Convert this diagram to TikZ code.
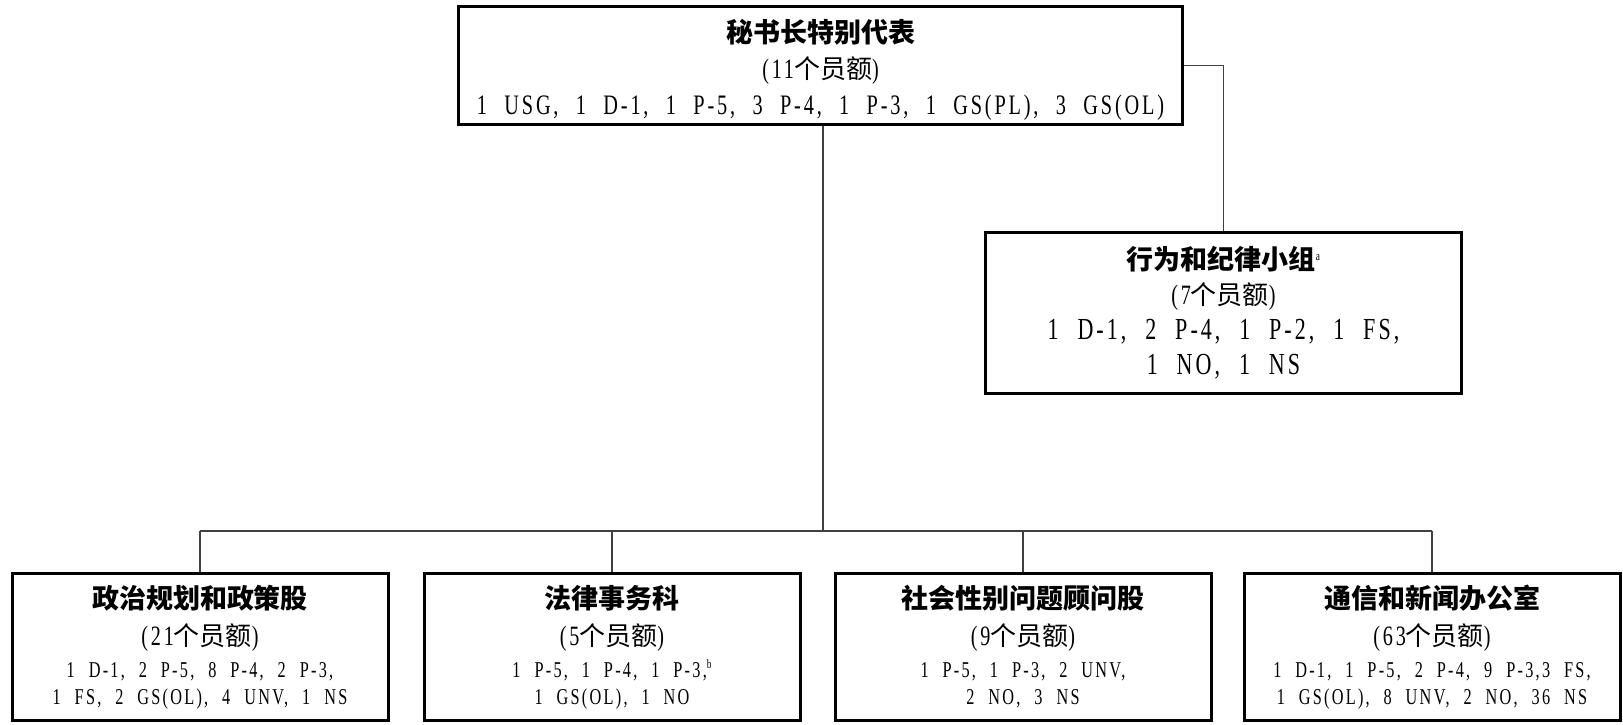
\documentclass[tikz,border=0pt]{standalone}
\usepackage{fontspec}
\newfontfamily\cjk{Noto Sans CJK SC}
\newfontfamily\latn[FakeStretch=0.72,LetterSpace=10,WordSpace=2.2]{Liberation Serif}
\newcommand{\unitname}[1]{{\cjk\bfseries\fontsize{27}{27}\selectfont #1}}
\newcommand{\postcount}[1]{{\fontsize{28}{28}\selectfont\latn(#1{\cjk\fontsize{26}{26}\selectfont 个员额})}}
\newcommand{\supmark}[1]{\raisebox{9pt}{\fontsize{13}{13}\selectfont\latn #1}}
\begin{document}
\begin{tikzpicture}[x=1pt,y=-1pt,
  box/.style={draw=black,line width=3pt,inner sep=0pt,align=center},
  link/.style={draw=black!75,line width=1.5pt}]
\useasboundingbox (0,0) rectangle (1623,724);
\node[box,minimum width=724,minimum height=118,font={\fontsize{28.2}{36}\selectfont\latn}]
  (srsg) at (820.5,65.5) {\rule{0pt}{32pt}\unitname{秘书长特别代表}\\
  \postcount{11}\\
  1 USG, 1 D-1, 1 P-5, 3 P-4, 1 P-3, 1 GS(PL), 3 GS(OL)};
\node[box,minimum width=476,minimum height=161,font={\fontsize{30.6}{35}\selectfont\latn}]
  (cdt) at (1223.5,313) {\unitname{行为和纪律小组}\supmark{a}\\
  \postcount{7}\\
  1 D-1, 2 P-4, 1 P-2, 1 FS,\\
  1 NO, 1 NS};
\tikzset{lowbox/.style={box,minimum width=376,minimum height=147,font={\fontsize{22.6}{27}\selectfont\latn}}}
\node[lowbox] (polit) at (200,647) {\unitname{政治规划和政策股}\\[10pt]
  \postcount{21}\\[5pt]
  1 D-1, 2 P-5, 8 P-4, 2 P-3,\\
  1 FS, 2 GS(OL), 4 UNV, 1 NS};
\node[lowbox] (legal) at (612,647) {\unitname{法律事务科}\\[10pt]
  \postcount{5}\\[5pt]
  1 P-5, 1 P-4, 1 P-3,\supmark{b}\\
  1 GS(OL), 1 NO};
\node[lowbox] (gender) at (1023,647) {\unitname{社会性别问题顾问股}\\[10pt]
  \postcount{9}\\[5pt]
  1 P-5, 1 P-3, 2 UNV,\\
  2 NO, 3 NS};
\node[lowbox] (comms) at (1432,647) {\unitname{通信和新闻办公室}\\[10pt]
  \postcount{63}\\[5pt]
  1 D-1, 1 P-5, 2 P-4, 9 P-3,3 FS,\\
  1 GS(OL), 8 UNV, 2 NO, 36 NS};
\coordinate (hub) at (823,531);
\draw[link] (srsg.east) -| (cdt.north);
\draw[link] (srsg.south -| hub) -- (hub);
\draw[link] (polit.north |- hub) -- (comms.north |- hub);
\foreach \u in {polit,legal,gender,comms}
	\draw[link] (\u.north |- hub) -- (\u.north);
\end{tikzpicture}
\end{document}
